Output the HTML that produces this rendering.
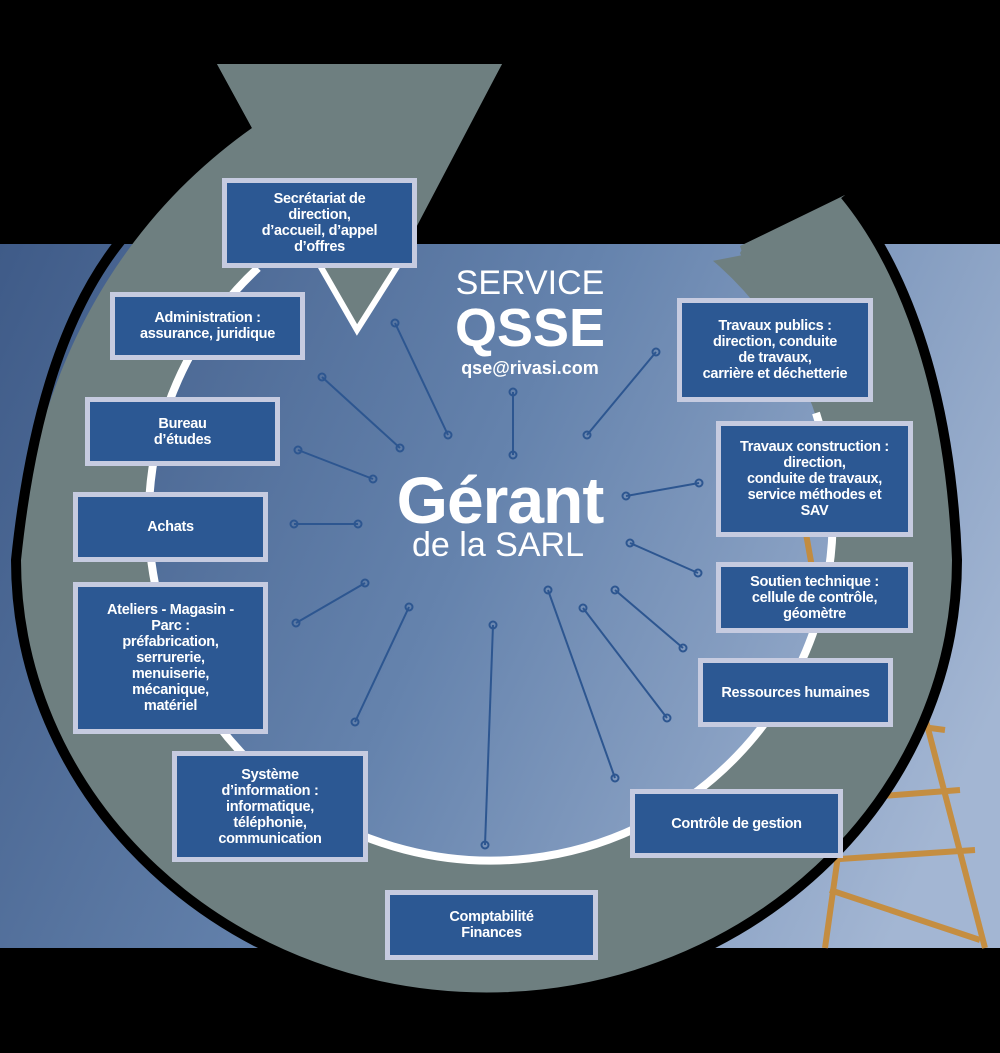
<!DOCTYPE html>
<html><head><meta charset="utf-8"><style>
html,body{margin:0;padding:0;background:#000;}
#w{position:relative;width:1000px;height:1053px;overflow:hidden;background:#000;font-family:"Liberation Sans",sans-serif;}
svg{position:absolute;left:0;top:0;}
.b{position:absolute;box-sizing:border-box;background:#2c5893;border:5px solid #c6cbe0;color:#fff;font-weight:bold;font-size:14.5px;line-height:16px;letter-spacing:-0.3px;display:flex;align-items:center;justify-content:center;text-align:center;}
</style></head><body><div id="w">
<svg width="1000" height="1053" viewBox="0 0 1000 1053">
<defs>
<linearGradient id="ph" gradientUnits="userSpaceOnUse" x1="0" y1="244" x2="1000" y2="700">
<stop offset="0" stop-color="#3f5b88"/><stop offset="0.5" stop-color="#6583ad"/><stop offset="1" stop-color="#a3b6d3"/>
</linearGradient>
<mask id="m"><rect width="1000" height="1053" fill="#fff"/><circle cx="490" cy="520" r="342" fill="#000"/></mask>
</defs>
<rect x="0" y="244" width="1000" height="704" fill="url(#ph)"/>
<g stroke="#c98a32" stroke-width="6" fill="none" opacity="0.9">
<line x1="905" y1="640" x2="985" y2="948"/><line x1="860" y1="700" x2="825" y2="948"/>
<line x1="830" y1="800" x2="960" y2="790"/><line x1="825" y1="860" x2="975" y2="850"/>
<line x1="830" y1="890" x2="980" y2="940"/><line x1="870" y1="720" x2="945" y2="730"/>
<line x1="800" y1="500" x2="825" y2="640"/>
</g>
<path mask="url(#m)" d="M217,64 L502,64 L357,330 L743,255 L740,246 L845,195 C900,262 950,380 957,560 A470,437 0 0 1 16,560 C40,330 150,200 252,128 Z" fill="#6e7f80"/>
<polygon points="217,64 502,64 398,262 262,262 252,128" fill="#6e7f80"/>
<path d="M845,195 L743,248 L740,253 L816,413 L944,413 C930,330 895,258 845,195 Z" fill="#6e7f80"/>
<path d="M845,195 C900,262 950,380 957,560 A470,437 0 0 1 16,560 C40,330 108,245 160,200" fill="none" stroke="#000" stroke-width="10"/>
<polygon points="318,262 357,330 400,262" fill="#6e7f80"/>
<path d="M816,413 A342,342 0 1 1 258,268" fill="none" stroke="#fff" stroke-width="8"/>
<polyline points="318,262 357,330 400,262" fill="none" stroke="#fff" stroke-width="6"/>
<g stroke="#2d5690" stroke-width="2" fill="none">
<line x1="395" y1="323" x2="448" y2="435"/><circle cx="395" cy="323" r="3.5"/><circle cx="448" cy="435" r="3.5"/>
<line x1="322" y1="377" x2="400" y2="448"/><circle cx="322" cy="377" r="3.5"/><circle cx="400" cy="448" r="3.5"/>
<line x1="298" y1="450" x2="373" y2="479"/><circle cx="298" cy="450" r="3.5"/><circle cx="373" cy="479" r="3.5"/>
<line x1="294" y1="524" x2="358" y2="524"/><circle cx="294" cy="524" r="3.5"/><circle cx="358" cy="524" r="3.5"/>
<line x1="296" y1="623" x2="365" y2="583"/><circle cx="296" cy="623" r="3.5"/><circle cx="365" cy="583" r="3.5"/>
<line x1="355" y1="722" x2="409" y2="607"/><circle cx="355" cy="722" r="3.5"/><circle cx="409" cy="607" r="3.5"/>
<line x1="485" y1="845" x2="493" y2="625"/><circle cx="485" cy="845" r="3.5"/><circle cx="493" cy="625" r="3.5"/>
<line x1="548" y1="590" x2="615" y2="778"/><circle cx="548" cy="590" r="3.5"/><circle cx="615" cy="778" r="3.5"/>
<line x1="583" y1="608" x2="667" y2="718"/><circle cx="583" cy="608" r="3.5"/><circle cx="667" cy="718" r="3.5"/>
<line x1="615" y1="590" x2="683" y2="648"/><circle cx="615" cy="590" r="3.5"/><circle cx="683" cy="648" r="3.5"/>
<line x1="630" y1="543" x2="698" y2="573"/><circle cx="630" cy="543" r="3.5"/><circle cx="698" cy="573" r="3.5"/>
<line x1="626" y1="496" x2="699" y2="483"/><circle cx="626" cy="496" r="3.5"/><circle cx="699" cy="483" r="3.5"/>
<line x1="587" y1="435" x2="656" y2="352"/><circle cx="587" cy="435" r="3.5"/><circle cx="656" cy="352" r="3.5"/>
<line x1="513" y1="392" x2="513" y2="455"/><circle cx="513" cy="392" r="3.5"/><circle cx="513" cy="455" r="3.5"/>
</g>
<g fill="#fff" text-anchor="middle" font-family="Liberation Sans, sans-serif">
<text x="530" y="294" font-size="34">SERVICE</text>
<text x="530" y="346" font-size="54" font-weight="bold">QSSE</text>
<text x="530" y="374" font-size="18" font-weight="bold">qse@rivasi.com</text>
<text x="500" y="523" font-size="66" font-weight="bold" letter-spacing="-1">Gérant</text>
<text x="498" y="556" font-size="34">de la SARL</text>
</g>
</svg>
<div class="b" style="left:222px;top:178px;width:195px;height:90px">Secrétariat de<br>direction,<br>d’accueil, d’appel<br>d’offres</div>
<div class="b" style="left:110px;top:292px;width:195px;height:68px">Administration :<br>assurance, juridique</div>
<div class="b" style="left:85px;top:397px;width:195px;height:69px">Bureau<br>d’études</div>
<div class="b" style="left:73px;top:492px;width:195px;height:70px">Achats</div>
<div class="b" style="left:73px;top:582px;width:195px;height:152px">Ateliers - Magasin -<br>Parc :<br>préfabrication,<br>serrurerie,<br>menuiserie,<br>mécanique,<br>matériel</div>
<div class="b" style="left:172px;top:751px;width:196px;height:111px">Système<br>d’information :<br>informatique,<br>téléphonie,<br>communication</div>
<div class="b" style="left:385px;top:890px;width:213px;height:70px">Comptabilité<br>Finances</div>
<div class="b" style="left:630px;top:789px;width:213px;height:69px">Contrôle de gestion</div>
<div class="b" style="left:698px;top:658px;width:195px;height:69px">Ressources humaines</div>
<div class="b" style="left:716px;top:562px;width:197px;height:71px">Soutien technique :<br>cellule de contrôle,<br>géomètre</div>
<div class="b" style="left:716px;top:421px;width:197px;height:116px">Travaux construction :<br>direction,<br>conduite de travaux,<br>service méthodes et<br>SAV</div>
<div class="b" style="left:677px;top:298px;width:196px;height:104px">Travaux publics :<br>direction, conduite<br>de travaux,<br>carrière et déchetterie</div>
</div></body></html>
